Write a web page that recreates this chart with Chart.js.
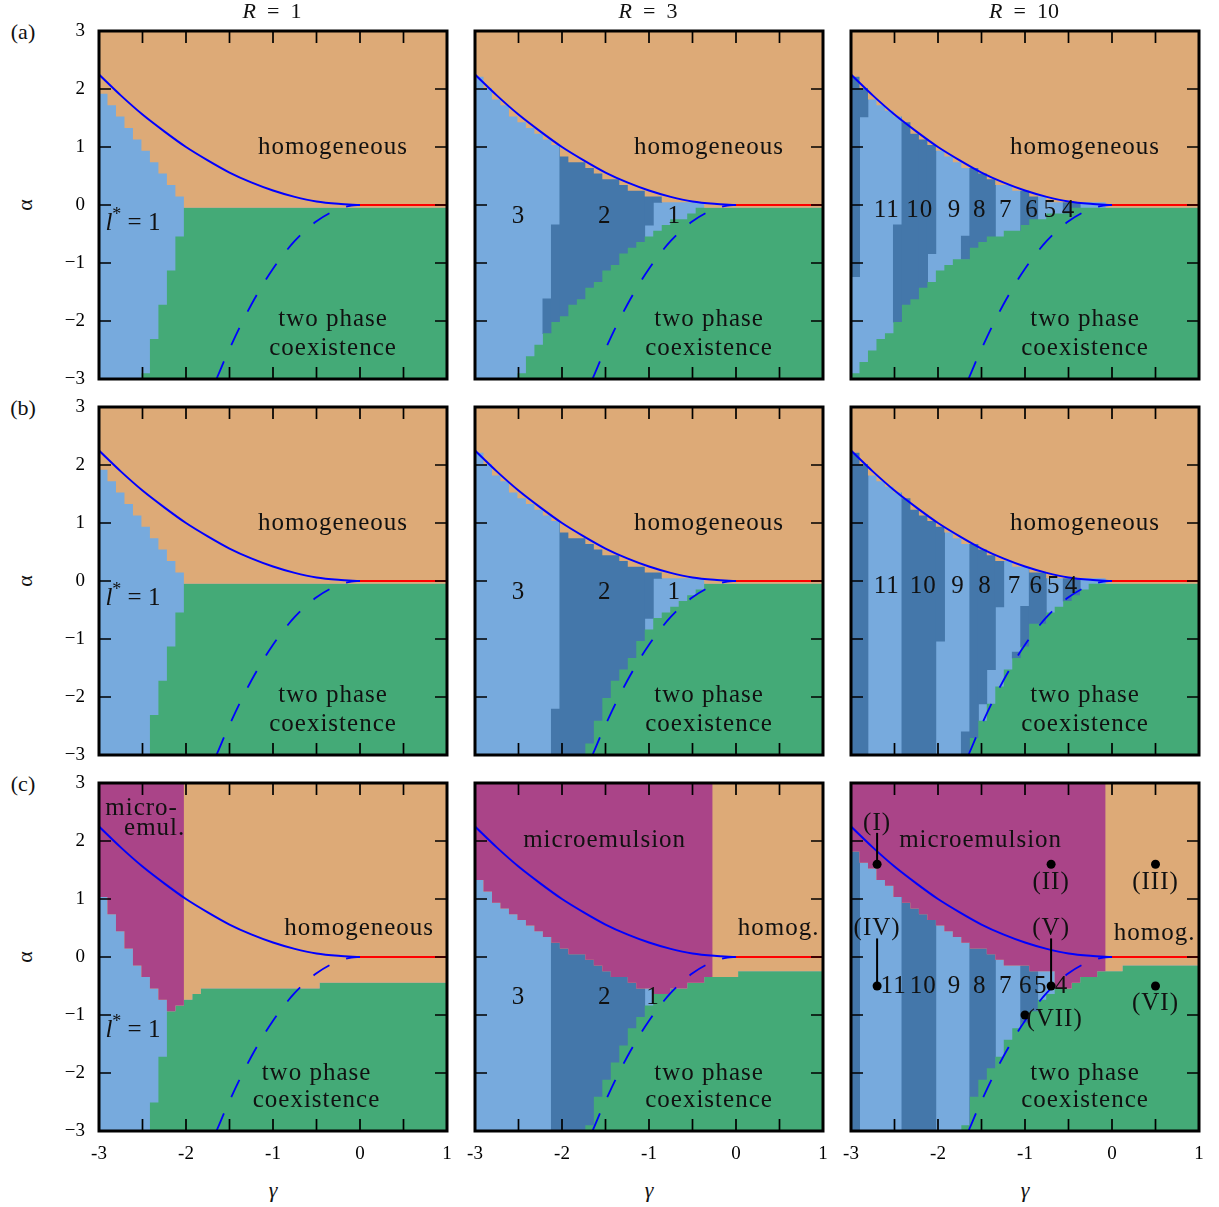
<!DOCTYPE html>
<html><head><meta charset="utf-8">
<script src="https://cdn.jsdelivr.net/npm/chart.js@4.4.1/dist/chart.umd.min.js"></script>
<style>
html,body{margin:0;padding:0;background:#fff}
#wrap{position:relative;width:1219px;height:1207px;overflow:hidden;font-family:'Liberation Serif',serif;color:#111}
canvas{position:absolute}
.lbl{position:absolute;line-height:1;white-space:nowrap;transform:translate(-50%,-50%)}
</style></head><body><div id="wrap"></div>
<script>
const _ = null;
// ---------------- DATA ----------------
const gammaCells = [-3.0,-2.9,-2.8,-2.7,-2.6,-2.5,-2.4,-2.3,-2.2,-2.1,-2.0,-1.9,-1.8,-1.7,-1.6,-1.5,-1.4,-1.3,-1.2,-1.1,-1.0,-0.9,-0.8,-0.7,-0.6,-0.5,-0.4,-0.3,-0.2,-0.1,0.0,0.1,0.2,0.3,0.4,0.5,0.6,0.7,0.8,0.9,1.0];
const xTickValues = [-3,-2,-1,0,1];
const xTickLabels = ['-3','-2','-1','0','1'];
const yTickValues = [-3,-2,-1,0,1,2,3];
const yTickLabels = ['\u22123','\u22122','\u22121','0','1','2','3'];
const columnR = ['1','3','10'];
const rowTitles = ['(a)','(b)','(c)'];

// highest alpha grid value of the modulated (blue) phase per gamma column (null: none)
const a1Top = [1.9,1.7,1.5,1.3,1.1,0.9,0.7,0.5,0.3,0.1, _,_,_,_,_,_,_,_,_,_, _,_,_,_,_,_,_,_,_,_, _,_,_,_,_,_,_,_,_,_,_];
const a1Green = [_,_,_,_,_,-3.0,-2.4,-1.8,-1.2,-0.6, -0.1,-0.1,-0.1,-0.1,-0.1,-0.1,-0.1,-0.1,-0.1,-0.1, -0.1,-0.1,-0.1,-0.1,-0.1,-0.1,-0.1,-0.1,-0.1,-0.1, -0.1,-0.1,-0.1,-0.1,-0.1,-0.1,-0.1,-0.1,-0.1,-0.1,-0.1];
const b1Top = [1.9,1.7,1.5,1.3,1.1,0.9,0.7,0.5,0.3,0.1, _,_,_,_,_,_,_,_,_,_, _,_,_,_,_,_,_,_,_,_, _,_,_,_,_,_,_,_,_,_,_];
const b1Green = [_,_,_,_,_,_,-2.4,-1.8,-1.2,-0.6, -0.1,-0.1,-0.1,-0.1,-0.1,-0.1,-0.1,-0.1,-0.1,-0.1, -0.1,-0.1,-0.1,-0.1,-0.1,-0.1,-0.1,-0.1,-0.1,-0.1, -0.1,-0.1,-0.1,-0.1,-0.1,-0.1,-0.1,-0.1,-0.1,-0.1,-0.1];
const c1Top = [1.0,0.7,0.4,0.1,-0.2,-0.4,-0.6,-0.8,_,_, _,_,_,_,_,_,_,_,_,_, _,_,_,_,_,_,_,_,_,_, _,_,_,_,_,_,_,_,_,_,_];
const c1Green = [_,_,_,_,_,_,-2.6,-1.8,-1.0,-0.9, -0.8,-0.7,-0.6,-0.6,-0.6,-0.6,-0.6,-0.6,-0.6,-0.6, -0.6,-0.6,-0.6,-0.6,-0.6,-0.6,-0.5,-0.5,-0.5,-0.5, -0.5,-0.5,-0.5,-0.5,-0.5,-0.5,-0.5,-0.5,-0.5,-0.5,-0.5];
const c1MicroLast = -2.1;

const a2Top = [2.2,2.0,1.8,1.7,1.5,1.4,1.3,1.2,1.1,1.0, 0.8,0.7,0.7,0.6,0.5,0.4,0.4,0.3,0.2,0.2, 0.1,0.1,0.0,0.0,0.0,0.0,0.0,_,_,_, _,_,_,_,_,_,_,_,_,_,_];
const a2Green = [_,_,_,_,_,-3.0,-2.7,-2.5,-2.3,-2.1, -2.0,-1.8,-1.7,-1.5,-1.4,-1.2,-1.1,-0.9,-0.8,-0.7, -0.6,-0.5,-0.4,-0.3,-0.3,-0.2,-0.1,-0.1,-0.1,-0.1, -0.1,-0.1,-0.1,-0.1,-0.1,-0.1,-0.1,-0.1,-0.1,-0.1,-0.1];
const a2Dark = [[-2.2,-2.2,-2.2,-1.7],[-2.1,-2.1,-2.2,-0.4],[-2.0,-1.1,-3.0,3.0],[-1.0,-1.0,-0.3,0.2],[-0.9,-0.9,0.1,0.2]];
const b2Top = [2.2,2.0,1.8,1.7,1.5,1.4,1.3,1.2,1.1,1.0, 0.8,0.7,0.7,0.6,0.5,0.4,0.4,0.3,0.2,0.2, 0.1,0.1,0.0,0.0,0.0,0.0,0.0,_,_,_, _,_,_,_,_,_,_,_,_,_,_];
const b2Green = [_,_,_,_,_,_,_,_,_,_, _,_,_,-2.9,-2.5,-2.1,-1.8,-1.6,-1.4,-1.1, -0.9,-0.7,-0.6,-0.5,-0.4,-0.3,-0.2,-0.1,-0.1,-0.1, -0.1,-0.1,-0.1,-0.1,-0.1,-0.1,-0.1,-0.1,-0.1,-0.1,-0.1];
const b2Dark = [[-2.1,-2.1,-3.0,-2.3],[-2.0,-1.1,-3.0,3.0],[-1.0,-1.0,-0.6,0.2],[-0.9,-0.9,0.1,0.2]];
const c2Top = [1.3,1.1,0.9,0.8,0.7,0.6,0.5,0.4,0.3,0.2, 0.1,0.0,0.0,-0.1,-0.2,-0.3,-0.4,-0.4,-0.5,-0.6, -0.6,_,_,_,_,_,_,_,_,_, _,_,_,_,_,_,_,_,_,_,_];
const c2Green = [_,_,_,_,_,_,_,_,_,_, _,_,_,-3.0,-2.5,-2.2,-1.9,-1.6,-1.3,-1.1, -0.9,-0.7,-0.7,-0.6,-0.6,-0.5,-0.5,-0.4,-0.4,-0.4, -0.4,-0.3,-0.3,-0.3,-0.3,-0.3,-0.3,-0.3,-0.3,-0.3,-0.3];
const c2Dark = [[-2.1,-1.1,-3.0,3.0]];
const c2MicroLast = -0.3;

const a3Top = [2.2,2.0,1.8,1.7,1.6,1.5,1.4,1.2,1.1,1.0, 0.9,0.8,0.7,0.6,0.6,0.5,0.4,0.3,0.3,0.2, 0.2,0.1,0.1,0.0,0.0,0.0,0.0,0.0,0.0,0.0, _,_,_,_,_,_,_,_,_,_,_];
const a3Green = [-3.0,-2.8,-2.6,-2.4,-2.3,-2.1,-1.8,-1.7,-1.5,-1.4, -1.2,-1.1,-1.0,-1.0,-0.8,-0.7,-0.6,-0.6,-0.5,-0.5, -0.4,-0.3,-0.3,-0.2,-0.2,-0.2,-0.1,-0.1,-0.1,-0.1, -0.1,-0.1,-0.1,-0.1,-0.1,-0.1,-0.1,-0.1,-0.1,-0.1,-0.1];
const a3Dark = [[-3.0,-3.0,-1.2,3.0],[-2.9,-2.9,1.6,3.0],[-2.5,-2.5,-2.0,-0.4],[-2.4,-2.3,-3.0,3.0],[-2.2,-2.2,-1.7,3.0],[-2.1,-2.1,-0.8,3.0],[-1.7,-1.7,-0.9,-0.6],[-1.6,-1.4,-3.0,3.0],[-1.0,-0.9,-3.0,3.0],[-0.5,-0.4,-3.0,3.0]];
const b3Top = [2.2,2.0,1.8,1.7,1.6,1.5,1.4,1.2,1.1,1.0, 0.9,0.8,0.7,0.6,0.6,0.5,0.4,0.3,0.3,0.2, 0.2,0.1,0.1,0.0,0.0,0.0,0.0,0.0,0.0,0.0, _,_,_,_,_,_,_,_,_,_,_];
const b3Green = [_,_,_,_,_,_,_,_,_,_, _,_,_,_,-2.8,-2.5,-2.2,-1.9,-1.6,-1.4, -1.2,-0.8,-0.8,-0.6,-0.5,-0.4,-0.3,-0.2,-0.1,-0.1, -0.1,-0.1,-0.1,-0.1,-0.1,-0.1,-0.1,-0.1,-0.1,-0.1,-0.1];
const b3Dark = [[-3.0,-2.9,-3.0,3.0],[-2.4,-2.1,-3.0,3.0],[-2.0,-2.0,-1.0,3.0],[-1.7,-1.7,-3.0,-2.7],[-1.6,-1.6,-3.0,3.0],[-1.5,-1.5,-2.1,3.0],[-1.4,-1.4,-1.5,3.0],[-1.3,-1.3,-0.4,3.0],[-1.1,-1.1,-1.3,-1.3],[-1.0,-1.0,-1.1,-0.5],[-0.9,-0.8,-0.7,3.0],[-0.5,-0.4,-0.3,3.0]];
const c3Top = [1.8,1.6,1.5,1.3,1.2,1.0,0.9,0.8,0.7,0.6, 0.5,0.4,0.3,0.2,0.1,0.1,0.0,-0.1,-0.2,-0.2, -0.2,-0.3,-0.3,-0.3,_,_,_,_,_,_, _,_,_,_,_,_,_,_,_,_,_];
const c3Green = [_,_,_,_,_,_,_,_,_,_, _,_,_,-3.0,-2.5,-2.2,-2.0,-1.8,-1.5,-1.3, -1.2,-1.0,-0.8,-0.7,-0.6,-0.6,-0.5,-0.4,-0.4,-0.3, -0.3,-0.3,-0.2,-0.2,-0.2,-0.2,-0.2,-0.2,-0.2,-0.2,-0.2];
const c3Dark = [[-3.0,-3.0,-3.0,3.0],[-2.4,-2.1,-3.0,3.0],[-1.6,-1.4,-3.0,3.0],[-1.0,-0.9,-3.0,3.0]];
const c3MicroLast = -0.1;

// mean-field lines
const curveGamma = [-3,-2.75,-2.5,-2.25,-2,-1.75,-1.5,-1.25,-1,-0.75,-0.5,-0.25,0];
const curveAlpha = [2.25,1.89,1.56,1.27,1.0,0.77,0.56,0.39,0.25,0.14,0.06,0.02,0];
const redGamma = [0,1];
const redAlpha = [0,0];
const dashGamma = [-1.65,-1.5,-1.25,-1.0,-0.75,-0.5,-0.25,-0.1,0];
const dashAlpha = [-3.0,-2.48,-1.72,-1.1,-0.62,-0.28,-0.07,-0.01,0];

// state points of panel (c) R=10
const stateNames = ['(I)','(II)','(III)','(IV)','(V)','(VI)','(VII)'];
const stateGamma = [-2.7,-0.7,0.5,-2.7,-0.7,0.5,-1.0];
const stateAlpha = [1.6,1.6,1.6,-0.5,-0.5,-0.5,-1.0];

const lLabelsR3 = ['3','2','1'];
const lLabelsR10 = ['11','10','9','8','7','6','5','4'];

// ---------------- STYLE / LAYOUT ----------------
const COL = {light:'#77AADD', dark:'#4477AA', green:'#44AA77', orange:'#DDAA77', purple:'#AA4488'};
const FONT = '"Liberation Serif", serif';
const PW = 348, PADL = 60, PADT = 30, PADR = 25, PADB = 45;
const lefts = [99,475,851], tops = [31,407,783];
const EPS_G = 0.007, EPS_A = 0.01;   // tiny overlap to avoid anti-alias seams

const textHomog = [{t:'homogeneous',g:-0.31,a:1.0},{t:'two phase',g:-0.31,a:-1.98},{t:'coexistence',g:-0.31,a:-2.47}];
const lstarPos = [[-2.61,-0.31],[-2.61,-0.30],[-2.61,-1.26]];
const r3NumG = [-2.5,-1.51,-0.71];
const r10NumG_a = [-2.59,-2.21,-1.81,-1.52,-1.22,-0.92,-0.71,-0.50];
const r10NumG_b = [-2.59,-2.17,-1.77,-1.46,-1.12,-0.87,-0.67,-0.465];
const r10NumG_c = [-2.51,-2.17,-1.81,-1.52,-1.22,-0.99,-0.82,-0.58];
const stateLabelPos = [[-2.7,2.30],[-0.7,1.29],[0.5,1.29],[-2.7,0.49],[-0.7,0.49],[0.5,-0.80],[-0.66,-1.08]];
const stateLeaders = [[-2.7,1.6,2.14],[-2.7,-0.5,0.32],[-0.7,-0.5,0.32]];

function nums(labels, gs, a){ return labels.map((t,i)=>({t, g:gs[i], a})); }

const panels = [
 {row:0,col:0,top:a1Top,green:a1Green,dark:[],micro:null,texts:[...textHomog],lstar:lstarPos[0]},
 {row:0,col:1,top:a2Top,green:a2Green,dark:a2Dark,micro:null,texts:[...textHomog,...nums(lLabelsR3,r3NumG,-0.19)]},
 {row:0,col:2,top:a3Top,green:a3Green,dark:a3Dark,micro:null,texts:[...textHomog,...nums(lLabelsR10,r10NumG_a,-0.09)]},
 {row:1,col:0,top:b1Top,green:b1Green,dark:[],micro:null,texts:[...textHomog],lstar:lstarPos[1]},
 {row:1,col:1,top:b2Top,green:b2Green,dark:b2Dark,micro:null,texts:[...textHomog,...nums(lLabelsR3,r3NumG,-0.19)]},
 {row:1,col:2,top:b3Top,green:b3Green,dark:b3Dark,micro:null,texts:[...textHomog,...nums(lLabelsR10,r10NumG_b,-0.09)]},
 {row:2,col:0,top:c1Top,green:c1Green,dark:[],micro:c1MicroLast,lstar:lstarPos[2],
   texts:[{t:'micro-',g:-2.51,a:2.56},{t:'emul.',g:-2.36,a:2.21},{t:'homogeneous',g:-0.01,a:0.49},{t:'two phase',g:-0.5,a:-2.01},{t:'coexistence',g:-0.5,a:-2.47}]},
 {row:2,col:1,top:c2Top,green:c2Green,dark:c2Dark,micro:c2MicroLast,
   texts:[{t:'microemulsion',g:-1.51,a:2.01},{t:'homog.',g:0.49,a:0.49},{t:'two phase',g:-0.31,a:-2.01},{t:'coexistence',g:-0.31,a:-2.47},...nums(lLabelsR3,[-2.5,-1.51,-0.955],-0.69)]},
 {row:2,col:2,top:c3Top,green:c3Green,dark:c3Dark,micro:c3MicroLast,states:true,
   texts:[{t:'microemulsion',g:-1.51,a:2.01},{t:'homog.',g:0.49,a:0.40},{t:'two phase',g:-0.31,a:-2.01},{t:'coexistence',g:-0.31,a:-2.47},...nums(lLabelsR10,r10NumG_c,-0.506)]}
];

// ---------------- helpers: image-style cell extents ----------------
const NCOL = gammaCells.length, NROW = 61;
const xL = k => -3 + k*4/NCOL;
const xR = k => -3 + (k+1)*4/NCOL;
const rowIdx = a => Math.round((a+3)*10);
const yTopOf = a => -3 + (rowIdx(a)+1)*6/NROW;
const yBotOf = a => -3 + rowIdx(a)*6/NROW;
const colIdx = g => Math.round((g+3)*10);

function stair(k0,k1,fn){ const pts=[]; for(let k=k0;k<=k1;k++){const y=fn(k); pts.push({x:xL(k),y},{x:xR(k),y});} return pts; }
function area(data, color, fill){ return {data, backgroundColor:color, borderColor:'rgba(0,0,0,0)', borderWidth:0, pointRadius:0, fill, tension:0}; }

function buildDatasets(p){
  const L = [];
  L.push(area([{x:-3,y:3},{x:1,y:3}], COL.light, {value:-3}));
  p.dark.forEach(r=>{ const yt=yTopOf(r[3])+EPS_A, yb=yBotOf(r[2])-EPS_A;
    L.push(area([{x:xL(colIdx(r[0]))-EPS_G,y:yt},{x:xR(colIdx(r[1]))+EPS_G,y:yt}], COL.dark, {value:yb})); });
  const gTop = k => p.green[k]===null ? -3 : yTopOf(p.green[k]);
  L.push(area(stair(0,NCOL-1,gTop), COL.green, 'start'));
  const hBot = k => p.top[k]!==null ? yTopOf(p.top[k]) : gTop(k);
  L.push(area(stair(0,NCOL-1,hBot), COL.orange, 'end'));
  if (p.micro!==null) L.push(area(stair(0,colIdx(p.micro),hBot), COL.purple, 'end'));
  L.push({data:dashGamma.map((g,i)=>({x:g,y:dashAlpha[i]})), borderColor:'#0000FF', borderWidth:1.8, borderDash:[19,18], pointRadius:0, fill:false, cubicInterpolationMode:'monotone'});
  L.push({data:curveGamma.map((g,i)=>({x:g,y:curveAlpha[i]})), borderColor:'#0000FF', borderWidth:2, pointRadius:0, fill:false, cubicInterpolationMode:'monotone'});
  L.push({data:redGamma.map((g,i)=>({x:g,y:redAlpha[i]})), borderColor:'#FF0000', borderWidth:2, pointRadius:0, fill:false});
  if (p.states) L.push({data:stateGamma.map((g,i)=>({x:g,y:stateAlpha[i]})), showLine:false, pointRadius:4.5, pointBackgroundColor:'#000', pointBorderWidth:0, borderColor:'#000', fill:false});
  return L.map((d,i)=>Object.assign(d,{order:L.length-i}));
}

const decor = {
  id:'decor',
  afterDatasetsDraw(chart){
    const p = chart.config.options.plugins.decor.panel;
    const {ctx} = chart; const {left,right,top,bottom} = chart.chartArea;
    const xs = chart.scales.x, ys = chart.scales.y;
    ctx.save();
    ctx.fillStyle = '#111'; ctx.textAlign='center'; ctx.textBaseline='middle';
    ctx.font = '25px '+FONT; if ('letterSpacing' in ctx) ctx.letterSpacing='1px';
    p.texts.forEach(o=>ctx.fillText(o.t, xs.getPixelForValue(o.g), ys.getPixelForValue(o.a)));
    if (p.states){
      ctx.strokeStyle='#000'; ctx.lineWidth=2;
      stateLeaders.forEach(s=>{ctx.beginPath(); ctx.moveTo(xs.getPixelForValue(s[0]), ys.getPixelForValue(s[1])); ctx.lineTo(xs.getPixelForValue(s[0]), ys.getPixelForValue(s[2])); ctx.stroke();});
      stateNames.forEach((t,i)=>ctx.fillText(t, xs.getPixelForValue(stateLabelPos[i][0]), ys.getPixelForValue(stateLabelPos[i][1])));
    }
    if (p.lstar){
      if ('letterSpacing' in ctx) ctx.letterSpacing='0px';
      const parts=[{t:'l',f:'italic 25px '+FONT,dy:0},{t:'*',f:'18px '+FONT,dy:-8},{t:' = 1',f:'25px '+FONT,dy:0}];
      let w=0; parts.forEach(q=>{ctx.font=q.f; q.w=ctx.measureText(q.t).width; w+=q.w;});
      let x = xs.getPixelForValue(p.lstar[0]) - w/2; const y = ys.getPixelForValue(p.lstar[1]);
      ctx.textAlign='left';
      parts.forEach(q=>{ctx.font=q.f; ctx.fillText(q.t,x,y+q.dy); x+=q.w;});
    }
    ctx.strokeStyle='#000'; ctx.lineWidth=1.7;
    [-2.5,-2,-1.5,-1,-0.5,0,0.5].forEach(g=>{const px=xs.getPixelForValue(g); ctx.beginPath(); ctx.moveTo(px,top); ctx.lineTo(px,top+12); ctx.moveTo(px,bottom); ctx.lineTo(px,bottom-12); ctx.stroke();});
    [-2,-1,0,1,2].forEach(a=>{const py=ys.getPixelForValue(a); ctx.beginPath(); ctx.moveTo(left,py); ctx.lineTo(left+12,py); ctx.moveTo(right,py); ctx.lineTo(right-12,py); ctx.stroke();});
    ctx.lineWidth=3; ctx.strokeRect(left,top,right-left,bottom-top);
    ctx.restore();
  }
};

const wrap = document.getElementById('wrap');
panels.forEach(p=>{
  const cv = document.createElement('canvas');
  cv.width = PADL+PW+PADR; cv.height = PADT+PW+PADB;
  cv.style.left = (lefts[p.col]-PADL)+'px'; cv.style.top = (tops[p.row]-PADT)+'px';
  cv.style.width = cv.width+'px'; cv.style.height = cv.height+'px';
  wrap.appendChild(cv);
  const showX = p.row===2, showY = p.col===0;
  new Chart(cv.getContext('2d'), {
    type:'line',
    data:{datasets:buildDatasets(p)},
    options:{
      animation:false, responsive:false, maintainAspectRatio:false, devicePixelRatio:1,
      layout:{padding:{left:0,right:PADR,top:PADT,bottom:0}},
      plugins:{legend:{display:false}, tooltip:{enabled:false}, decor:{panel:p}},
      scales:{
        x:{type:'linear', min:-3, max:1, display:showX, afterFit:s=>{s.height=PADB;},
           grid:{display:false, drawTicks:false}, border:{display:false},
           afterBuildTicks:s=>{s.ticks = xTickValues.map(v=>({value:v}));},
           ticks:{padding:12, color:'#000', font:{family:'Liberation Serif', size:19}, callback:(v)=>xTickLabels[xTickValues.indexOf(v)]}},
        y:{type:'linear', min:-3, max:3, display:showY, afterFit:s=>{s.width=PADL;},
           grid:{display:false, drawTicks:false}, border:{display:false},
           afterBuildTicks:s=>{s.ticks = yTickValues.map(v=>({value:v}));},
           ticks:{padding:14, color:'#000', font:{family:'Liberation Serif', size:19}, callback:(v)=>yTickLabels[yTickValues.indexOf(v)]}}
      }
    },
    plugins:[decor]
  });
});

function addLbl(html,x,y,size,extra){ const d=document.createElement('div'); d.className='lbl'; d.innerHTML=html; d.style.left=x+'px'; d.style.top=y+'px'; d.style.fontSize=size+'px'; if(extra) d.style.cssText+=extra; wrap.appendChild(d); }
columnR.forEach((r,i)=>addLbl('<i>R</i>&#8197;&#8197;=&#8197;&#8197;'+r, lefts[i]+PW/2-1, 11, 22));
rowTitles.forEach((t,i)=>addLbl(t, 23, tops[i]+1, 22));
[0,1,2].forEach(i=>addLbl('\u03b1', 25, tops[i]+PW/2, 22, 'transform:translate(-50%,-50%) rotate(-90deg);'));
[0,1,2].forEach(i=>addLbl('<i>\u03b3</i>', lefts[i]+PW/2, 1190, 22));
</script></body></html>
